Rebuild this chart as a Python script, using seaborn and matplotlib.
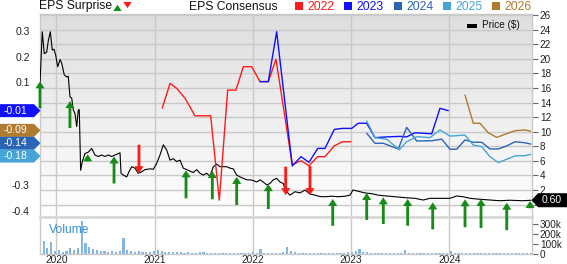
import numpy as np
import pandas as pd
import seaborn as sns
import matplotlib
matplotlib.use("Agg")
import matplotlib.pyplot as plt
from matplotlib.patches import Polygon, Rectangle, FancyArrowPatch
from matplotlib.transforms import IdentityTransform
from matplotlib.colors import LinearSegmentedColormap

# ---------------- data (dates as decimal years) ----------------
price_date = [2019.832, 2019.855, 2019.876, 2019.900, 2019.917, 2019.937, 2019.957, 2019.975,
              2019.992, 2020.012, 2020.036, 2020.053, 2020.079, 2020.104, 2020.120, 2020.137,
              2020.155, 2020.171, 2020.188, 2020.206, 2020.222, 2020.232, 2020.246, 2020.263,
              2020.290, 2020.324, 2020.358, 2020.392, 2020.426, 2020.460, 2020.494, 2020.527,
              2020.562, 2020.613, 2020.647, 2020.657, 2020.680, 2020.715, 2020.738, 2020.766,
              2020.799, 2020.833, 2020.868, 2020.901, 2020.952, 2020.986, 2021.020, 2021.054,
              2021.088, 2021.122, 2021.156, 2021.189, 2021.224, 2021.258, 2021.291, 2021.326,
              2021.359, 2021.393, 2021.428, 2021.461, 2021.495, 2021.530, 2021.563, 2021.597,
              2021.631, 2021.665, 2021.699, 2021.733, 2021.767, 2021.800, 2021.835, 2021.869,
              2021.902, 2021.937, 2021.970, 2022.004, 2022.039, 2022.072, 2022.106, 2022.141,
              2022.174, 2022.208, 2022.242, 2022.276, 2022.310, 2022.327, 2022.378, 2022.429,
              2022.480, 2022.531, 2022.581, 2022.632, 2022.683, 2022.734, 2022.802, 2022.867,
              2022.938, 2022.989, 2023.019, 2023.091, 2023.141, 2023.210, 2023.274, 2023.345,
              2023.447, 2023.549, 2023.651, 2023.735, 2023.803, 2023.905, 2024.007, 2024.075,
              2024.140, 2024.211, 2024.313, 2024.414, 2024.516, 2024.618, 2024.750, 2024.832]
price_val = [16.5, 23.7, 20.7, 20.9, 22.5, 23.7, 21.2, 21.3,
             20.5, 18.9, 19.9, 19.4, 17.8, 17.5, 17.6, 14.8,
             14.6, 13.0, 12.5, 10.7, 13.0, 13.0, 4.7, 5.9,
             7.0, 7.2, 7.7, 6.8, 6.6, 6.8, 6.6, 6.8,
             6.6, 6.9, 7.1, 4.3, 4.05, 3.8, 4.5, 5.2,
             5.0, 4.3, 4.5, 4.8, 4.9, 4.85, 5.65, 6.8,
             8.2, 7.5, 6.1, 6.3, 5.9, 6.1, 5.0, 4.8,
             4.6, 4.4, 4.8, 4.3, 4.05, 4.3, 3.9, 5.2,
             5.55, 5.2, 5.2, 5.2, 5.0, 4.9, 4.05, 3.8,
             3.6, 3.4, 3.4, 3.3, 3.1, 3.4, 3.1, 2.7,
             2.9, 3.4, 3.6, 3.1, 2.9, 2.0, 1.3, 1.77,
             1.6, 2.0, 1.45, 1.3, 1.1, 1.08, 1.15, 1.08,
             1.15, 1.3, 2.0, 1.77, 1.6, 1.5, 1.3, 1.2,
             1.08, 0.95, 0.86, 0.63, 0.86, 0.86, 0.86, 1.18,
             1.08, 0.86, 0.73, 0.63, 0.53, 0.6, 0.53, 0.60]

c2022_date = [2021.077, 2021.156, 2021.224, 2021.309, 2021.410, 2021.570, 2021.658, 2021.743,
              2021.828, 2021.902, 2021.988, 2022.072, 2022.157, 2022.235, 2022.401, 2022.490,
              2022.571, 2022.660, 2022.734, 2022.829, 2022.910, 2022.996]
c2022_val = [0.00, 0.096, 0.077, 0.038, -0.03, -0.03, -0.358, 0.07,
             0.07, 0.161, 0.161, 0.103, 0.103, 0.19, -0.22, -0.205,
             -0.224, -0.189, -0.189, -0.147, -0.131, -0.131]

c2023_date = [2022.072, 2022.157, 2022.242, 2022.401, 2022.490, 2022.571, 2022.660, 2022.734,
              2022.829, 2022.910, 2023.006, 2023.073, 2023.159, 2023.243, 2023.366, 2023.498,
              2023.566, 2023.651, 2023.821, 2023.905, 2023.990]
c2023_val = [0.103, 0.103, 0.297, -0.225, -0.189, -0.211, -0.157, -0.157,
             -0.083, -0.079, -0.079, -0.059, -0.059, -0.115, -0.112, -0.110,
             -0.112, -0.096, -0.100, -0.001, -0.01]

c2024_date = [2023.159, 2023.243, 2023.328, 2023.481, 2023.566, 2023.668, 2023.821, 2023.923,
              2024.007, 2024.075, 2024.160, 2024.244, 2024.330, 2024.414, 2024.499, 2024.585,
              2024.669, 2024.771, 2024.829]
c2024_val = [-0.098, -0.137, -0.137, -0.159, -0.075, -0.128, -0.127, -0.121,
             -0.160, -0.160, -0.124, -0.133, -0.133, -0.159, -0.159, -0.147,
             -0.131, -0.135, -0.14]

c2025_date = [2023.159, 2023.243, 2023.363, 2023.491, 2023.566, 2023.668, 2023.803, 2023.905,
              2024.007, 2024.160, 2024.244, 2024.330, 2024.414, 2024.499, 2024.585, 2024.669,
              2024.771, 2024.829]
c2025_val = [-0.050, -0.115, -0.121, -0.162, -0.131, -0.111, -0.115, -0.085,
             -0.109, -0.105, -0.144, -0.150, -0.189, -0.212, -0.199, -0.186,
             -0.185, -0.18]

c2026_date = [2024.160, 2024.244, 2024.312, 2024.397, 2024.483, 2024.567, 2024.669, 2024.771,
              2024.829]
c2026_val = [0.051, -0.059, -0.059, -0.096, -0.114, -0.102, -0.088, -0.085, -0.09]

# EPS surprise arrows: date, tail (price $), head (price $)
surp_date = [2019.832, 2020.137, 2020.318, 2020.586, 2020.840, 2021.319, 2021.587, 2021.835,
             2022.157, 2022.334, 2022.581, 2022.813, 2023.159, 2023.328, 2023.576, 2023.831,
             2024.160, 2024.323, 2024.585, 2024.822]
surp_tail = [13.2, 10.5, 5.9, 2.9, 8.2, 0.86, 0.73, -0.05,
             -0.6, 5.2, 5.3, -2.9, -2.1, -2.66, -2.9, -3.4,
             -3.1, -3.2, -3.5, -0.5]
surp_head = [16.9, 14.2, 6.9, 6.6, 4.3, 4.7, 4.6, 3.8,
             2.8, 1.3, 1.3, 0.77, 1.6, 1.0, 0.77, 0.3,
             0.73, 0.77, 0.26, 0.5]

# Volume (thousands of shares), roughly bi-weekly from late 2019 to late 2024
vol_k = [35, 130, 60, 117, 30, 40, 25, 30, 57, 45, 60, 330, 107, 73, 50, 40, 35, 30, 25, 30,
         25, 35, 157, 40, 30, 25, 30, 20, 25, 20, 30, 40, 35, 25, 20, 25, 20, 18, 15, 20,
         15, 15, 18, 20, 15, 12, 15, 12, 15, 12, 10, 15, 12, 10, 12, 10, 25, 12, 55, 12,
         10, 10, 12, 10, 20, 73, 30, 20, 15, 12, 15, 12, 10, 12, 10, 12, 10, 12, 10, 15,
         12, 20, 25, 30, 50, 25, 20, 15, 12, 10, 12, 10, 12, 10, 12, 15, 40, 15, 12, 10,
         12, 10, 8, 10, 8, 10, 12, 10, 33, 12, 10, 8, 10, 8, 10, 12, 8, 10, 8, 10,
         12, 8, 10, 8, 15, 8, 10, 8, 10, 8]
vol_start, vol_end = 2019.83, 2024.83

years = [2020, 2021, 2022, 2023, 2024]
year_labels = ["2020", "2021", "2022", "2023", "2024"]
price_ticks = list(range(0, 27, 2))
price_tick_labels = [""] + [str(t) for t in price_ticks[1:]]
eps_ticks = [-0.4, -0.3, 0.1, 0.2, 0.3]
vol_ticks = [0, 100000, 200000, 300000]
vol_tick_labels = ["0", "100k", "200k", "300k"]

series = [("2022", c2022_date, c2022_val, "#ff1a1a"),
          ("2023", c2023_date, c2023_val, "#1010ff"),
          ("2024", c2024_date, c2024_val, "#2a64b4"),
          ("2025", c2025_date, c2025_val, "#45a5d6"),
          ("2026", c2026_date, c2026_val, "#b07b2e")]

# ---------------- style ----------------
sns.set_theme(style="white")
plt.rcParams["font.family"] = ["Liberation Sans", "DejaVu Sans"]

W, H = 567, 264
def fx(px): return px / W
def fy(py): return 1 - py / H

fig = plt.figure(figsize=(W / 100, H / 100), dpi=100)
L, R = 39.5, 531.5
TOP, MB, VT, VB = 14, 217, 219, 254
axp = fig.add_axes([fx(L), fy(MB), (R - L) / W, (MB - TOP) / H])
axv = fig.add_axes([fx(L), fy(VB), (R - L) / W, (VB - VT) / H])

grid_c = "#c9c9c9"
XL = (2019.827, 2024.837)

# gradient background
cmap = LinearSegmentedColormap.from_list("g", ["#dedede", "#ffffff"])
axp.imshow(np.linspace(0, 1, 256).reshape(-1, 1), cmap=cmap, extent=[0, 1, 0, 1],
           transform=axp.transAxes, aspect="auto", zorder=0)

# price line
sns.lineplot(x=price_date, y=price_val, ax=axp, color="black", lw=0.8, zorder=3, legend=False)
axp.set_xlim(*XL)
axp.set_ylim(-1.70, 26.14)
axp.set_yticks(price_ticks)
axp.set_yticklabels(price_tick_labels)
axp.set_xticks(years)
axp.set_axisbelow(True)
axp.grid(True, color=grid_c, lw=1.0)
axp.set_xlabel("")
axp.set_ylabel("")
for k, s in axp.spines.items():
    s.set_color(grid_c)
    s.set_linewidth(1.0)
axp.spines["bottom"].set_color("#d8d8d8")
axp.spines["bottom"].set_linewidth(2.0)

# surprise arrows
for d, t, h in zip(surp_date, surp_tail, surp_head):
    col = "#178a17" if h > t else "#ff1a1a"
    ann = axp.annotate("", xy=(d, h), xytext=(d, t), annotation_clip=False, zorder=6,
                       arrowprops=dict(arrowstyle="simple,head_length=0.42,head_width=0.55,tail_width=0.17",
                                       color=col, lw=0, shrinkA=0, shrinkB=0))
    ann.arrow_patch.set_clip_on(False)

# EPS consensus (left axis)
axe = axp.twinx()
for name, d, v, c in series:
    sns.lineplot(x=d, y=v, ax=axe, color=c, lw=1.0, zorder=4, legend=False)
axe.set_xlim(*XL)
axe.set_ylim(-0.4237, 0.366)
axe.yaxis.tick_left()
axe.set_yticks(eps_ticks)
axe.set_yticklabels([f"{t:.1f}" for t in eps_ticks])
axe.tick_params(axis="y", left=False, right=False, labelleft=True, labelright=False,
                length=0, labelsize=7.5, pad=7, labelcolor="#222222")
axe.set_ylabel("")
for s in axe.spines.values():
    s.set_visible(False)

# price axis ticks on the right (after twinx, which moves them)
axp.yaxis.tick_right()
axp.yaxis.set_label_position("right")
axp.tick_params(axis="y", right=True, left=False, labelright=True, labelleft=False,
                length=4, width=0.8, color="#666666", labelsize=7.2, pad=2, labelcolor="#222222")
axp.tick_params(axis="x", bottom=False, labelbottom=False)

# volume
xs = np.linspace(vol_start, vol_end, len(vol_k))
axv.bar(xs, np.array(vol_k) * 1000, width=0.022, color="#85b6e3", lw=0, zorder=2)
axv.set_xlim(*XL)
axv.set_ylim(0, 350000)
axv.set_yticks(vol_ticks)
axv.set_yticklabels(vol_tick_labels)
axv.yaxis.tick_right()
axv.tick_params(axis="y", right=True, left=False, labelright=True, labelleft=False,
                length=4, width=0.8, color="#666666", labelsize=7.2, pad=2, labelcolor="#222222")
axv.set_xticks(years)
axv.set_xticklabels(year_labels)
axv.tick_params(axis="x", length=0, labelsize=7.3, pad=0.6, labelcolor="#222222")
axv.grid(True, axis="x", color=grid_c, lw=1.0)
axv.set_axisbelow(True)
axv.patch.set_visible(False)
for k, s in axv.spines.items():
    s.set_color(grid_c)
    s.set_linewidth(1.0)
axv.spines["top"].set_visible(False)
fig.text(fx(49), fy(230), "Volume", color="#3d8fd1", fontsize=8.7, va="center", ha="left")

# ---------------- header ----------------
fig.text(fx(39), fy(6.5), "EPS Surprise", fontsize=8.7, va="center", ha="left", color="#111111")
fig.add_artist(FancyArrowPatch((fx(117.5), fy(11)), (fx(117.5), fy(2)), transform=fig.transFigure,
                               arrowstyle="simple,head_length=0.45,head_width=0.6,tail_width=0.22",
                               mutation_scale=10, color="#178a17", lw=0))
fig.add_artist(FancyArrowPatch((fx(127.5), fy(2)), (fx(127.5), fy(11)), transform=fig.transFigure,
                               arrowstyle="simple,head_length=0.45,head_width=0.6,tail_width=0.22",
                               mutation_scale=10, color="#ff1a1a", lw=0))
fig.text(fx(189), fy(6.5), "EPS Consensus", fontsize=8.7, va="center", ha="left", color="#111111")
leg_x = [295, 343.5, 394, 443, 492]
for (name, d, v, c), x0 in zip(series, leg_x):
    fig.add_artist(Rectangle((fx(x0), fy(9.8)), 8 / W, 8 / H, transform=fig.transFigure,
                             color=c, lw=0))
    fig.text(fx(x0 + 12.5), fy(6.5), name, fontsize=8.7, va="center", ha="left", color=c)

# price legend
fig.add_artist(Rectangle((fx(467), fy(27.5)), 10 / W, 4 / H, transform=fig.transFigure,
                         color="black", lw=0, zorder=10))
fig.text(fx(482), fy(25.5), "Price ($)", fontsize=7.2, va="center", ha="left", color="#111111",
         zorder=10)

# ---------------- badges ----------------
fig.canvas.draw()
badge_series = [s for s in series if s[0] != "2022"]
vals = [s[2][-1] for s in badge_series]
order = np.argsort(vals)[::-1]
gap = 0.05
placed = {}
prev = None
for i in order:
    v = vals[i]
    if prev is not None and prev - v < gap:
        v = prev - gap
    placed[i] = v
    prev = v
rest = [i for i in order[1:]]
shift = np.mean([vals[i] for i in rest]) - np.mean([placed[i] for i in rest])
for i in rest:
    placed[i] += shift

hh = 6.5
for i in order:
    name, d, v, c = badge_series[i]
    yc = axe.transData.transform((XL[0], placed[i]))[1]
    poly = Polygon([(0, yc - hh), (34, yc - hh), (40.5, yc), (34, yc + hh), (0, yc + hh)],
                   closed=True, transform=IdentityTransform(), facecolor=c, edgecolor="none",
                   zorder=20)
    fig.add_artist(poly)
    fig.text(4 / W, yc / H, f"{vals[i]:.2f}", color="white", fontsize=7.5, va="center",
             ha="left", zorder=21)

yc = axp.transData.transform((XL[1], price_val[-1]))[1]
poly = Polygon([(R, yc), (538, yc + 7), (567, yc + 7), (567, yc - 7), (538, yc - 7)],
               closed=True, transform=IdentityTransform(), facecolor="black", edgecolor="none",
               zorder=20)
fig.add_artist(poly)
fig.text(552 / W, yc / H, f"{price_val[-1]:.2f}", color="white", fontsize=7.5, va="center",
         ha="center", zorder=21)

fig.savefig("out.png", dpi=100)
